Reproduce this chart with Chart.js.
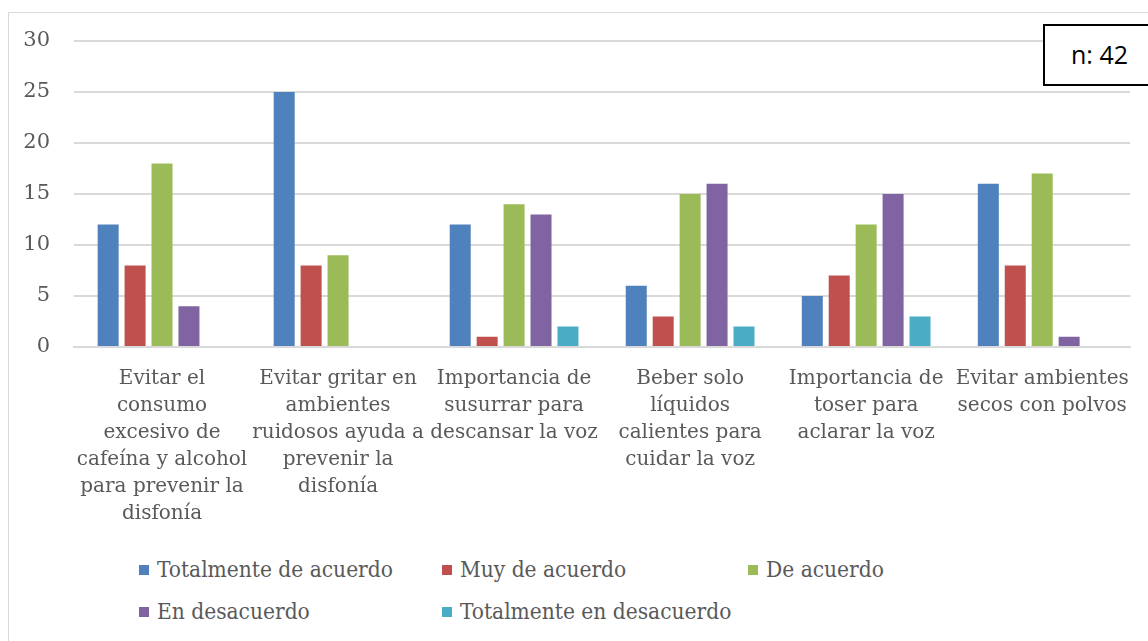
<!DOCTYPE html>
<html>
<head>
<meta charset="utf-8">
<script src="https://cdn.jsdelivr.net/npm/chart.js@4/dist/chart.umd.min.js"></script>
<style>
  body { margin: 0; background: #fff; }
  #wrap { position: relative; width: 1148px; height: 641px; overflow: hidden; }
  #frame { position: absolute; left: 8px; top: 12px; width: 1160px; height: 660px; border: 1px solid #d9d9d9; box-sizing: border-box; }
  #chartBox { position: absolute; left: 0; top: 0; width: 1148px; height: 535px; }
  #nbox { position: absolute; left: 1043px; top: 24px; width: 120px; height: 62px; border: 2px solid #000; box-sizing: border-box;
          font-family: "Open Sans", "Liberation Sans", sans-serif; font-size: 25px; line-height: 56px; padding-left: 26px; color: #000; background: #fff; }
  .leg { position: absolute; font-family: "DejaVu Serif Condensed", "DejaVu Serif", serif; font-stretch: condensed; font-size: 22.5px; color: #595959; white-space: nowrap; }
  .leg span { display: inline-block; width: 10px; height: 10px; margin-right: 8px; vertical-align: 2px; }
</style>
</head>
<body>
<div id="wrap">
  <div id="frame"></div>
  <div id="chartBox"><canvas id="myChart"></canvas></div>
  <div id="nbox">n: 42</div>
  <div id="legend"></div>
</div>
<script>
// categories (already split into lines as in the picture)
const categories = [
    ['Evitar el', 'consumo', 'excesivo de', 'cafeína y alcohol', 'para prevenir la', 'disfonía'],
    ['Evitar gritar en', 'ambientes', 'ruidosos ayuda a', 'prevenir la', 'disfonía'],
    ['Importancia de', 'susurrar para', 'descansar la voz'],
    ['Beber solo', 'líquidos', 'calientes para', 'cuidar la voz'],
    ['Importancia de', 'toser para', 'aclarar la voz'],
    ['Evitar ambientes', 'secos con polvos']
];

const seriesNames = ['Totalmente de acuerdo', 'Muy de acuerdo', 'De acuerdo', 'En desacuerdo', 'Totalmente en desacuerdo'];
const totalmenteAcuerdo = [12, 25, 12, 6, 5, 16];
const muyAcuerdo = [8, 8, 1, 3, 7, 8];
const deAcuerdo = [18, 9, 14, 15, 12, 17];
const enDesacuerdo = [4, 0, 13, 16, 15, 1];
const totalmenteDesacuerdo = [0, 0, 2, 2, 3, 0];
const yTicks = [0, 5, 10, 15, 20, 25, 30];

const colors = ['#4f81bd', '#c0504d', '#9bbb59', '#8064a2', '#4bacc6'];
const allValues = [totalmenteAcuerdo, muyAcuerdo, deAcuerdo, enDesacuerdo, totalmenteDesacuerdo];

let datasets = seriesNames.map((name, i) => ({
    label: name,
    data: allValues[i],
    backgroundColor: colors[i],
    borderWidth: 0,
    categoryPercentage: 0.765,
    barPercentage: 0.78
}));

// html legend, two rows like the original
let legendPos = [[139, 556], [442, 556], [748, 556], [139, 598], [442, 598]];
let legendHtml = '';
seriesNames.forEach((name, i) => {
    legendHtml += '<div class="leg" style="left:' + legendPos[i][0] + 'px;top:' + legendPos[i][1] + 'px">' +
        '<span style="background:' + colors[i] + '"></span>' + name + '</div>';
});
document.getElementById('legend').innerHTML = legendHtml;

let ctx = document.getElementById('myChart').getContext('2d');
new Chart(ctx, {
    type: 'bar',
    data: {
        labels: categories,
        datasets: datasets
    },
    options: {
        responsive: true,
        maintainAspectRatio: false,
        animation: false,
        layout: { padding: { top: 41, right: 15, left: 0, bottom: 0 } },
        plugins: {
            legend: { display: false },
            tooltip: { enabled: false }
        },
        scales: {
            x: {
                grid: { display: false, drawTicks: false },
                border: { color: '#d9d9d9', width: 2 },
                ticks: {
                    color: '#595959',
                    maxRotation: 0,
                    autoSkip: false,
                    padding: 18,
                    font: { family: 'DejaVu Serif', size: 20, lineHeight: 1.35 }
                },
                afterFit: function(axis) { axis.height = 188; }
            },
            y: {
                min: 0,
                max: 30,
                afterBuildTicks: function(axis) { axis.ticks = yTicks.map(v => ({ value: v })); },
                grid: { color: '#d9d9d9', lineWidth: 2, drawTicks: false },
                border: { display: false },
                ticks: {
                    color: '#595959',
                    padding: 24,
                    font: { family: 'DejaVu Serif', size: 21 }
                },
                afterFit: function(axis) { axis.width = 74; }
            }
        }
    }
});
</script>
</body>
</html>
